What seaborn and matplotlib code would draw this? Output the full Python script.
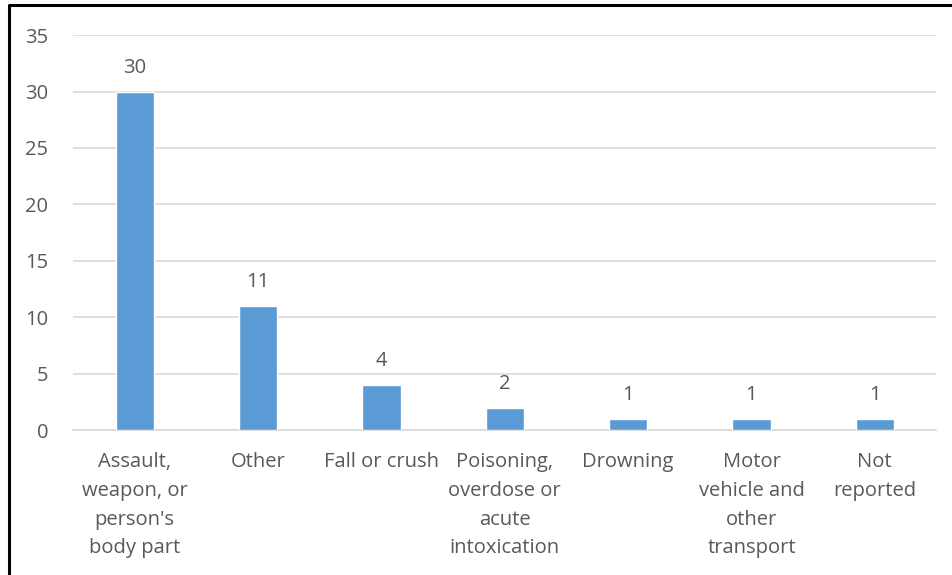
import matplotlib as mpl
import matplotlib.pyplot as plt
import seaborn as sns
import pandas as pd

CATEGORIES = [
    "Assault,\nweapon, or\nperson's\nbody part",
    "Other",
    "Fall or crush",
    "Poisoning,\noverdose or\nacute\nintoxication",
    "Drowning",
    "Motor\nvehicle and\nother\ntransport",
    "Not\nreported",
]
COUNTS = [30, 11, 4, 2, 1, 1, 1]

BAR_COLOR = "#5b9bd5"
TEXT_COLOR = "#595959"
GRID_COLOR = "#d9d9d9"

sns.set_style("white")
plt.rcParams["font.family"] = ["Open Sans", "DejaVu Sans"]

df = pd.DataFrame({"cause": CATEGORIES, "count": COUNTS})

fig = plt.figure(figsize=(9.52, 5.75), dpi=100)
ax = fig.add_axes([0.0767, 0.252, 0.907, 0.687])

sns.barplot(data=df, x="cause", y="count", color=BAR_COLOR, width=0.31,
            saturation=1, ax=ax, zorder=3)

for c in ax.containers:
    ax.bar_label(c, fmt="%d", padding=10, fontsize=14.5, color=TEXT_COLOR)

ax.set_ylim(0, 35)
ax.set_yticks(range(0, 36, 5))
ax.yaxis.grid(True, color=GRID_COLOR, linewidth=1.2, zorder=0)
ax.set_axisbelow(True)
for side in ["top", "right", "left"]:
    ax.spines[side].set_visible(False)
ax.spines["bottom"].set_color(GRID_COLOR)
ax.spines["bottom"].set_linewidth(1.2)

ax.tick_params(axis="both", length=0, labelsize=14.5, colors=TEXT_COLOR)
ax.tick_params(axis="x", pad=16)
ax.tick_params(axis="y", pad=18)
for lbl in ax.get_xticklabels():
    lbl.set_linespacing(1.58)
    lbl.set_verticalalignment("top")
ax.set_xlabel("")
ax.set_ylabel("")

# border of the chart area (only top and left visible in the reference crop)
fig.add_artist(mpl.lines.Line2D([0.0095, 0.0095, 1.0], [0.0, 0.991, 0.991],
                                transform=fig.transFigure, color="black", linewidth=2.2))

fig.savefig("out.png", dpi=100)
plt.close(fig)
